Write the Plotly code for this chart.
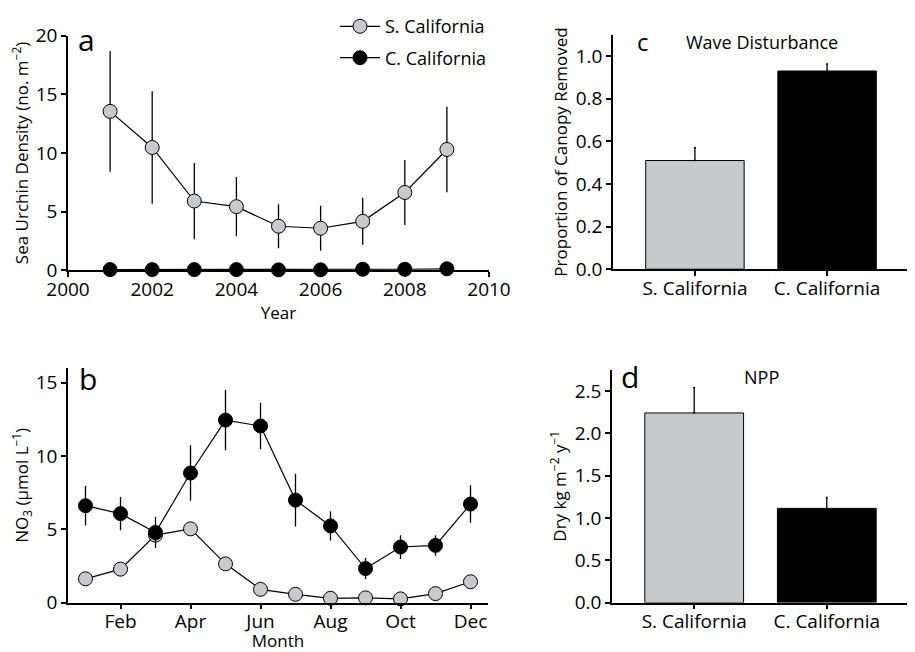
import plotly.graph_objects as go

# ---- Data ----
years = [2001, 2002, 2003, 2004, 2005, 2006, 2007, 2008, 2009]
s_urchin = [13.55, 10.47, 5.9, 5.42, 3.75, 3.58, 4.17, 6.63, 10.3]
s_urchin_err = [5.15, 4.8, 3.25, 2.53, 1.87, 1.92, 2.0, 2.78, 3.65]
c_urchin = [0.05, 0.05, 0.05, 0.05, 0.03, 0.03, 0.08, 0.08, 0.12]
c_urchin_err = [0.02, 0.02, 0.02, 0.02, 0.02, 0.02, 0.03, 0.03, 0.04]

months = [1, 2, 3, 4, 5, 6, 7, 8, 9, 10, 11, 12]
month_tickvals = [2, 4, 6, 8, 10, 12]
month_ticktext = ["Feb", "Apr", "Jun", "Aug", "Oct", "Dec"]
s_no3 = [1.62, 2.28, 4.6, 5.03, 2.64, 0.9, 0.56, 0.29, 0.32, 0.25, 0.61, 1.42]
s_no3_err = [0.15, 0.15, 0.2, 0.25, 0.15, 0.1, 0.1, 0.05, 0.05, 0.05, 0.1, 0.15]
c_no3 = [6.61, 6.07, 4.78, 8.84, 12.45, 12.05, 6.99, 5.23, 2.32, 3.79, 3.9, 6.72]
c_no3_err = [1.35, 1.13, 1.06, 1.9, 2.06, 1.58, 1.8, 1.0, 0.72, 0.81, 0.7, 1.28]

regions = ["S. California", "C. California"]
canopy = [0.51, 0.93]
canopy_err = [0.06, 0.033]
npp = [2.243, 1.114]
npp_err = [0.30, 0.13]

# ---- Layout helpers (page has an 8px body margin) ----
OFF = 8
W, H = 915 - OFF, 652 - OFF

def xp(x):
    return (x - OFF) / W

def yp(y):
    return 1 - (y - OFF) / H

# ---- Styles ----
GRAY = "#c8c9cb"
FONT = "Open Sans"
TICKFONT = dict(family=FONT, size=19, color="black")
TITLEFONT = dict(family=FONT, size=17, color="black")

fig = go.Figure()

def err(arr, sym=True):
    d = dict(type="data", array=arr, visible=True, color="black", thickness=1.3, width=0)
    if not sym:
        d.update(symmetric=False, arrayminus=[0] * len(arr), width=1)
    return d

marker_gray = dict(symbol="circle", size=14, color=GRAY, line=dict(color="black", width=1))
marker_black = dict(symbol="circle", size=14, color="black", line=dict(color="black", width=1))

# Panel a
fig.add_trace(go.Scatter(x=years, y=s_urchin, error_y=err(s_urchin_err), mode="lines+markers",
                         line=dict(color="black", width=1.2), marker=marker_gray,
                         name="S. California", legendgroup="s", xaxis="x", yaxis="y", cliponaxis=False))
fig.add_trace(go.Scatter(x=years, y=c_urchin, error_y=err(c_urchin_err), mode="lines+markers",
                         line=dict(color="black", width=1.2), marker=marker_black,
                         name="C. California", legendgroup="c", xaxis="x", yaxis="y", cliponaxis=False))
# Panel b
fig.add_trace(go.Scatter(x=months, y=s_no3, error_y=err(s_no3_err), mode="lines+markers",
                         line=dict(color="black", width=1.2), marker=marker_gray,
                         showlegend=False, xaxis="x2", yaxis="y2", cliponaxis=False))
fig.add_trace(go.Scatter(x=months, y=c_no3, error_y=err(c_no3_err), mode="lines+markers",
                         line=dict(color="black", width=1.2), marker=marker_black,
                         showlegend=False, xaxis="x2", yaxis="y2", cliponaxis=False))
# Panel c
fig.add_trace(go.Bar(x=regions, y=canopy, error_y=err(canopy_err, sym=False),
                     marker=dict(color=[GRAY, "black"], line=dict(color="black", width=1)),
                     width=0.745, showlegend=False, xaxis="x3", yaxis="y3"))
# Panel d
fig.add_trace(go.Bar(x=regions, y=npp, error_y=err(npp_err, sym=False),
                     marker=dict(color=[GRAY, "black"], line=dict(color="black", width=1)),
                     width=0.745, showlegend=False, xaxis="x4", yaxis="y4"))

axis_common = dict(showline=True, linecolor="black", linewidth=1.5, ticks="outside",
                   ticklen=5, tickwidth=1.5, tickcolor="black", showgrid=False,
                   zeroline=False, tickfont=TICKFONT, mirror=False, automargin=False)
xaxis_common = dict(axis_common, ticklabelstandoff=-4)

def ann(text, x, y, size):
    return dict(text=text, x=xp(x), y=yp(y), xref="paper", yref="paper", showarrow=False,
                xanchor="center", yanchor="middle", font=dict(family=FONT, size=size, color="black"))

fig.update_layout(
    template="none",
    width=W, height=H,
    margin=dict(l=0, r=0, t=0, b=0),
    paper_bgcolor="white", plot_bgcolor="white",
    font=dict(family=FONT, size=18, color="black"),
    xaxis=dict(domain=[xp(68), xp(489)], range=[2000, 2010], tickvals=[2000, 2002, 2004, 2006, 2008, 2010],
               anchor="y", title=dict(text="Year", font=TITLEFONT, standoff=6), **xaxis_common),
    yaxis=dict(domain=[yp(266), yp(29)], range=[0, 20], tickvals=[0, 5, 10, 15, 20], anchor="x",
               title=dict(text="Sea Urchin Density (no. m<sup>\u22122</sup>)", font=TITLEFONT, standoff=4),
               **axis_common),
    xaxis2=dict(domain=[xp(68), xp(488)], range=[0.5, 12.5], tickvals=month_tickvals, ticktext=month_ticktext,
                anchor="y2", title=dict(text="Month", font=TITLEFONT, standoff=12), **xaxis_common),
    yaxis2=dict(domain=[yp(602), yp(365)], range=[0, 16], tickvals=[0, 5, 10, 15], anchor="x2",
                title=dict(text="NO<sub>3</sub> (\u00b5mol L<sup>\u22121</sup>)", font=TITLEFONT, standoff=4),
                **axis_common),
    xaxis3=dict(domain=[xp(613), xp(909)], range=[-0.62, 1.62], anchor="y3", **xaxis_common),
    yaxis3=dict(domain=[yp(265), yp(28)], range=[0, 1.1], tickvals=[0, 0.2, 0.4, 0.6, 0.8, 1.0],
                tickformat=".1f", anchor="x3",
                title=dict(text="Proportion of Canopy Removed", font=TITLEFONT, standoff=4), **axis_common),
    xaxis4=dict(domain=[xp(612), xp(909)], range=[-0.62, 1.62], anchor="y4", **xaxis_common),
    yaxis4=dict(domain=[yp(602), yp(367)], range=[0, 2.75], tickvals=[0, 0.5, 1.0, 1.5, 2.0, 2.5],
                tickformat=".1f", anchor="x4",
                title=dict(text="Dry kg m<sup>\u22122</sup> y<sup>\u22121</sup>", font=TITLEFONT, standoff=4),
                **axis_common),
    legend=dict(x=xp(335), y=yp(1), xanchor="left", yanchor="top", bgcolor="rgba(0,0,0,0)",
                font=dict(family=FONT, size=18, color="black"), itemwidth=40, tracegroupgap=5),
    annotations=[
        ann("a", 86, 33, 30),
        ann("b", 88, 375, 30),
        ann("c", 643, 35, 24),
        ann("d", 630, 373, 30),
        ann("Wave Disturbance", 762, 35, 18),
        ann("NPP", 761, 374, 18),
    ],
)

fig.write_html("out.html")
